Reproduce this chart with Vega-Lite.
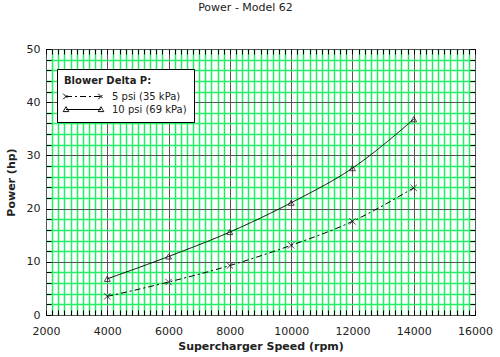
{
  "$schema": "https://vega.github.io/schema/vega-lite/v6.json",
  "autosize": "none",
  "width": 429,
  "height": 266,
  "padding": {"left": 46, "top": 49, "right": 25, "bottom": 42},
  "background": "white",
  "title": {"text": "Power - Model 62", "fontSize": 11, "font": "DejaVu Sans", "fontWeight": "normal", "color": "#222", "anchor": "middle", "dx": -15, "offset": 30},
  "config": {
    "view": {"stroke": "black", "strokeWidth": 1},
    "font": "DejaVu Sans",
    "axis": {"labelFont": "DejaVu Sans", "titleFont": "DejaVu Sans", "labelFontSize": 11, "titleFontSize": 11, "labelColor": "#222", "titleColor": "#222", "titleFontWeight": "bold", "domain": false, "tickColor": "black"}
  },
  "data": {"values": [
    {"rpm": 4000, "hp": 3.5, "series": "5 psi (35 kPa)"},
    {"rpm": 6000, "hp": 6.2, "series": "5 psi (35 kPa)"},
    {"rpm": 8000, "hp": 9.3, "series": "5 psi (35 kPa)"},
    {"rpm": 10000, "hp": 13.1, "series": "5 psi (35 kPa)"},
    {"rpm": 12000, "hp": 17.6, "series": "5 psi (35 kPa)"},
    {"rpm": 14000, "hp": 23.9, "series": "5 psi (35 kPa)"},
    {"rpm": 4000, "hp": 6.8, "series": "10 psi (69 kPa)"},
    {"rpm": 6000, "hp": 11.0, "series": "10 psi (69 kPa)"},
    {"rpm": 8000, "hp": 15.6, "series": "10 psi (69 kPa)"},
    {"rpm": 10000, "hp": 21.1, "series": "10 psi (69 kPa)"},
    {"rpm": 12000, "hp": 27.6, "series": "10 psi (69 kPa)"},
    {"rpm": 14000, "hp": 36.8, "series": "10 psi (69 kPa)"}
  ]},
  "resolve": {"axis": {"x": "independent", "y": "independent"}},
  "layer": [
    {
      "mark": {"type": "line", "interpolate": "monotone", "color": "black", "strokeWidth": 1},
      "encoding": {
        "x": {"field": "rpm", "type": "quantitative", "scale": {"domain": [2000, 16000], "nice": false, "zero": false},
          "axis": {"orient": "bottom", "title": "Supercharger Speed (rpm)", "titlePadding": 4,
            "values": [2000,2200,2400,2600,2800,3000,3200,3400,3600,3800,4000,4200,4400,4600,4800,5000,5200,5400,5600,5800,6000,6200,6400,6600,6800,7000,7200,7400,7600,7800,8000,8200,8400,8600,8800,9000,9200,9400,9600,9800,10000,10200,10400,10600,10800,11000,11200,11400,11600,11800,12000,12200,12400,12600,12800,13000,13200,13400,13600,13800,14000,14200,14400,14600,14800,15000,15200,15400,15600,15800,16000],
            "labelExpr": "datum.value % 2000 === 0 ? datum.value : ''",
            "labelFlush": false, "labelOverlap": false, "labelPadding": 15,
            "tickSize": -5, "grid": true,
            "gridColor": {"condition": {"test": "datum.value % 2000 === 0", "value": "#555555"}, "value": "#22ee66"},
            "gridWidth": {"condition": {"test": "datum.value % 2000 === 0", "value": 1}, "value": 1.5},
            "gridOpacity": 1}},
        "y": {"field": "hp", "type": "quantitative", "scale": {"domain": [0, 50], "nice": false},
          "axis": {"orient": "left", "title": "Power (hp)", "titlePadding": 10,
            "values": [0,2,4,6,8,10,12,14,16,18,20,22,24,26,28,30,32,34,36,38,40,42,44,46,48,50],
            "labelExpr": "datum.value % 10 === 0 ? datum.value : ''",
            "labelOverlap": false, "labelPadding": 11, "labelFlush": false,
            "tickSize": -5, "grid": true,
            "gridColor": {"condition": {"test": "datum.value % 10 === 0", "value": "#555555"}, "value": "#22ee66"},
            "gridWidth": {"condition": {"test": "datum.value % 10 === 0", "value": 1}, "value": 1.5},
            "gridOpacity": 1}},
        "strokeDash": {"field": "series", "type": "nominal",
          "scale": {"domain": ["5 psi (35 kPa)", "10 psi (69 kPa)"], "range": [[6, 3, 2, 3], [1, 0]]},
          "legend": {"orient": "none", "legendX": 11, "legendY": 20, "title": "Blower Delta P:",
            "titleFontSize": 10, "titleFontWeight": "bold", "titleColor": "#222", "labelFontSize": 10, "labelColor": "#222",
            "fillColor": "white", "strokeColor": "black", "padding": 7, "symbolSize": 196, "symbolStrokeColor": "black", "symbolStrokeWidth": 1, "symbolFillColor": "transparent", "rowPadding": 0, "symbolOffset": 12, "labelOffset": 21, "titlePadding": 3,
            "encode": {"symbols": {"update": {"shape": {"signal": "datum.value === '5 psi (35 kPa)' ? 'M-2.5,0H2.5M-2.9,-0.4L-2.1,0.4M-2.9,0.4L-2.1,-0.4M2.1,-0.4L2.9,0.4M2.1,0.4L2.9,-0.4' : 'M-2.5,0H2.5M-2.9,0.3L-2.5,-0.4L-2.1,0.3ZM2.1,0.3L2.5,-0.4L2.9,0.3Z'"}}}}}
        }
      }
    },
    {
      "transform": [{"filter": "datum.series === '5 psi (35 kPa)'"}],
      "mark": {"type": "point", "filled": false, "color": "black", "strokeWidth": 1, "size": 40, "shape": "M-1,-1L1,1M-1,1L1,-1"},
      "encoding": {
        "x": {"field": "rpm", "type": "quantitative",
          "axis": {"orient": "top", "title": null, "labels": false, "grid": false, "tickSize": -5,
            "values": [2000,2200,2400,2600,2800,3000,3200,3400,3600,3800,4000,4200,4400,4600,4800,5000,5200,5400,5600,5800,6000,6200,6400,6600,6800,7000,7200,7400,7600,7800,8000,8200,8400,8600,8800,9000,9200,9400,9600,9800,10000,10200,10400,10600,10800,11000,11200,11400,11600,11800,12000,12200,12400,12600,12800,13000,13200,13400,13600,13800,14000,14200,14400,14600,14800,15000,15200,15400,15600,15800,16000]}},
        "y": {"field": "hp", "type": "quantitative",
          "axis": {"orient": "right", "title": null, "labels": false, "grid": false, "tickSize": -5,
            "values": [0,2,4,6,8,10,12,14,16,18,20,22,24,26,28,30,32,34,36,38,40,42,44,46,48,50]}}
      }
    },
    {
      "transform": [{"filter": "datum.series === '10 psi (69 kPa)'"}],
      "mark": {"type": "point", "filled": false, "color": "black", "strokeWidth": 1, "size": 35, "shape": "triangle-up"},
      "encoding": {
        "x": {"field": "rpm", "type": "quantitative", "axis": null},
        "y": {"field": "hp", "type": "quantitative", "axis": null}
      }
    }
  ]
}
